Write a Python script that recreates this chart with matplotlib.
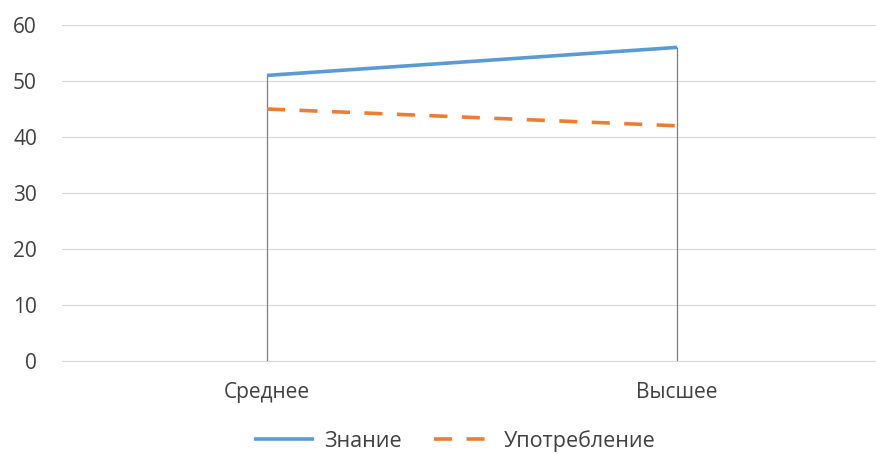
import matplotlib.pyplot as plt

categories = ["Среднее", "Высшее"]
znanie = [51, 56]
upotreblenie = [45, 42]

plt.rcParams["font.family"] = ["Open Sans", "DejaVu Sans"]

fig = plt.figure(figsize=(8.76, 4.54), dpi=100)
ax = fig.add_axes([62 / 876, 1 - 361 / 454, 820 / 876, 336 / 454])

x = range(len(categories))

# drop lines from the highest point of each category down to zero
for i in x:
    ax.vlines(i, 0, max(znanie[i], upotreblenie[i]), color="#7f7f7f", lw=0.9, zorder=2)

ax.plot(x, znanie, color="#5B9BD5", lw=2.6, solid_capstyle="butt", label="Знание", zorder=3)
ax.plot(x, upotreblenie, color="#ED7D31", lw=2.6, dashes=(5, 4), label="Употребление", zorder=3)

ax.set_xlim(-0.5, 1.5)
ax.set_ylim(0, 60)
ax.set_yticks(range(0, 61, 10))
ax.set_xticks(list(x))
ax.set_xticklabels(categories)
ax.yaxis.grid(True, color="#d9d9d9", lw=0.9)
ax.set_axisbelow(True)
for side in ["top", "right", "left"]:
    ax.spines[side].set_visible(False)
ax.spines["bottom"].set_color("#d9d9d9")
ax.tick_params(axis="both", length=0, labelsize=15, colors="#404040")
ax.tick_params(axis="x", pad=15)
ax.tick_params(axis="y", pad=18)

fig.legend(loc="center", bbox_to_anchor=(455 / 876, 1 - 441 / 454), ncol=2,
           frameon=False, fontsize=15.5, handlelength=2.8, handletextpad=0.45,
           columnspacing=1.5, labelcolor="#404040")

fig.savefig("out.png", dpi=100)
